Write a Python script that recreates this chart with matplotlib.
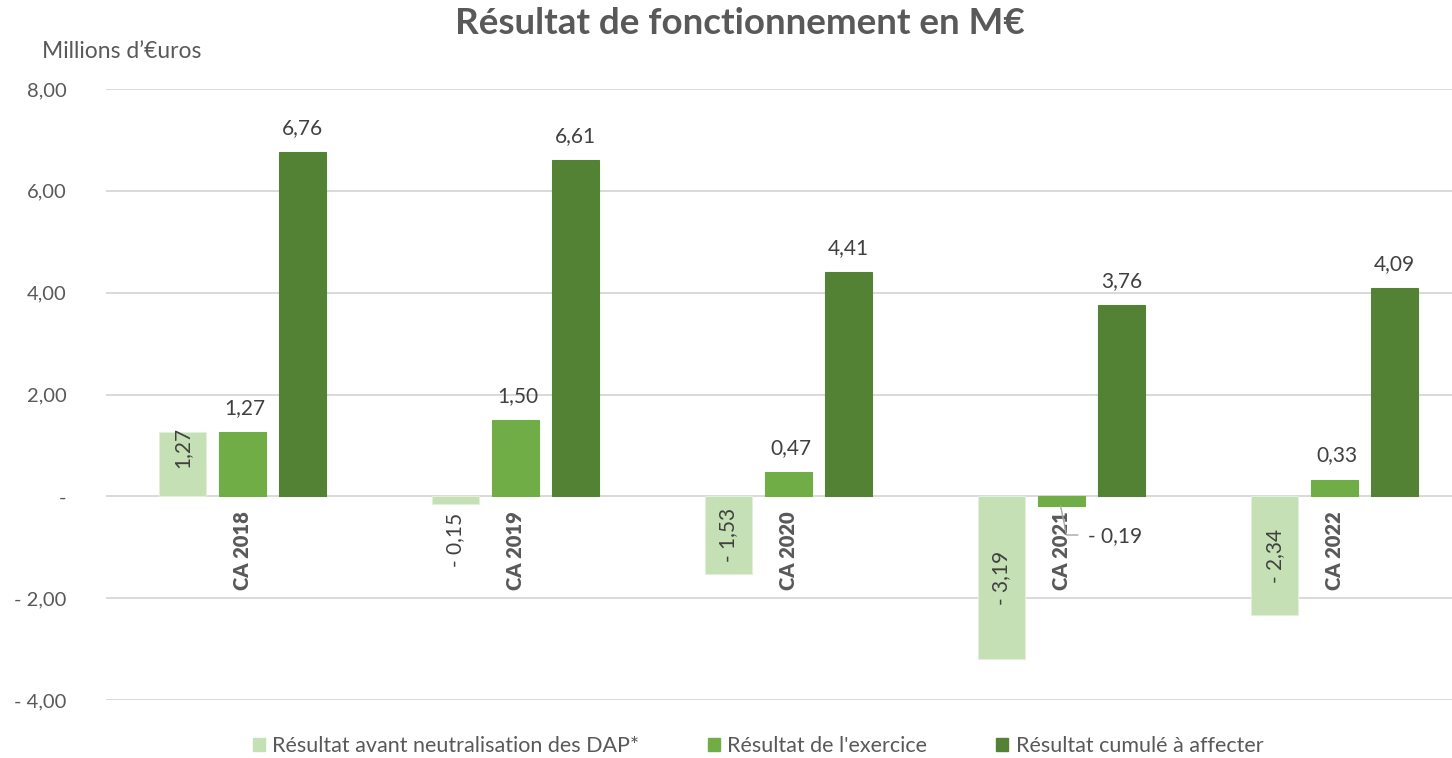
import matplotlib
matplotlib.use("Agg")
import matplotlib.pyplot as plt
from matplotlib.patches import Patch
import numpy as np

plt.rcParams['font.family'] = ['Lato', 'DejaVu Sans']

categories = ["CA 2018", "CA 2019", "CA 2020", "CA 2021", "CA 2022"]
avant_neutralisation = [1.27, -0.15, -1.53, -3.19, -2.34]
resultat_exercice = [1.27, 1.50, 0.47, -0.19, 0.33]
resultat_cumule = [6.76, 6.61, 4.41, 3.76, 4.09]
series_names = ["Résultat avant neutralisation des DAP*", "Résultat de l'exercice",
                "Résultat cumulé à affecter"]
yticks = [-4, -2, 0, 2, 4, 6, 8]
ytick_labels = ["- 4,00", "- 2,00", "-", "2,00", "4,00", "6,00", "8,00"]

colors = ["#C5E0B4", "#70AD47", "#548235"]
txt = "#404040"
axis_txt = "#595959"


def fmt(v):
    s = f"{abs(v):.2f}".replace(".", ",")
    return ("- " + s) if v < 0 else s


W, H = 1452, 758
fig = plt.figure(figsize=(W / 100, H / 100), dpi=100)
ax = fig.add_axes([106 / W, (H - 700) / H, (W - 106) / W, 611 / H])
ax.set_xlim(-0.5, 4.43)
ax.set_ylim(-4, 8)

x = np.arange(len(categories))
bw = 47 / 273
off = 60 / 273
series = [avant_neutralisation, resultat_exercice, resultat_cumule]
for k, (vals, c) in enumerate(zip(series, colors)):
    ax.bar(x + (k - 1) * off, vals, width=bw, color=c, zorder=3,
           edgecolor="#E2EFDA" if k == 0 else c, linewidth=0.8)

# grid
ax.set_yticks(yticks)
ax.set_yticklabels(ytick_labels, color=axis_txt, fontsize=14.5)
ax.yaxis.grid(True, color="#D9D9D9", linewidth=1.4, zorder=0)
ax.tick_params(axis="y", length=0, pad=28.5)
ax.set_xticks([])
for s in ax.spines.values():
    s.set_visible(False)

DL = 15
# light series labels (rotated)
light_pos = {0: 0.96, 1: -0.86}
for i, v in enumerate(avant_neutralisation):
    yy = light_pos.get(i, v / 2)
    ax.text(x[i] - off, yy, fmt(v), rotation=90, ha="center", va="center",
            fontsize=DL, color=txt, zorder=5)

# medium series labels
for i, v in enumerate(resultat_exercice):
    if v >= 0:
        ax.annotate(fmt(v), (x[i], v), xytext=(2, 13), textcoords="offset points",
                    ha="center", va="baseline", fontsize=DL, color=txt, zorder=5)
    else:
        # label with leader line
        ax.annotate(fmt(v), (x[i], v), xytext=(19, -22), textcoords="offset points",
                    ha="left", va="center", fontsize=DL, color=txt, zorder=5)
        p0 = ax.transData.transform((x[i], v))
        pts = np.array([[p0[0] - 1, p0[1]], [p0[0] + 5, p0[1] - 29],
                        [p0[0] + 16, p0[1] - 29]])
        inv = ax.transData.inverted().transform(pts)
        ax.plot(inv[:, 0], inv[:, 1], color="#A6A6A6", linewidth=1, zorder=6)

# dark series labels
for i, v in enumerate(resultat_cumule):
    ax.annotate(fmt(v), (x[i] + off, v), xytext=(0, 13), textcoords="offset points",
                ha="center", va="baseline", fontsize=DL, color=txt, zorder=5)

# category labels
for i, c in enumerate(categories):
    ax.annotate(c, (x[i], 0), xytext=(0, -11), textcoords="offset points",
                rotation=90, ha="center", va="top", fontsize=14.5, fontweight="heavy",
                color=axis_txt, zorder=5)

fig.text(740 / W, 1 - 24 / H, "Résultat de fonctionnement en M€", ha="center",
         va="center", fontsize=26.5, fontweight="bold", color=axis_txt)
fig.text(42 / W, 1 - 52 / H, "Millions d’€uros", ha="left", va="center",
         fontsize=16.5, color=axis_txt)

handles = [Patch(facecolor=c, edgecolor=c) for c in colors]
fig.legend(handles, series_names, loc="center", bbox_to_anchor=(758 / W, 1 - 746 / H),
           ncol=3, frameon=False, fontsize=15.5, handlelength=0.55, handleheight=0.55,
           handletextpad=0.35, columnspacing=3.2, labelcolor=axis_txt)

fig.savefig("out.png", dpi=100)
